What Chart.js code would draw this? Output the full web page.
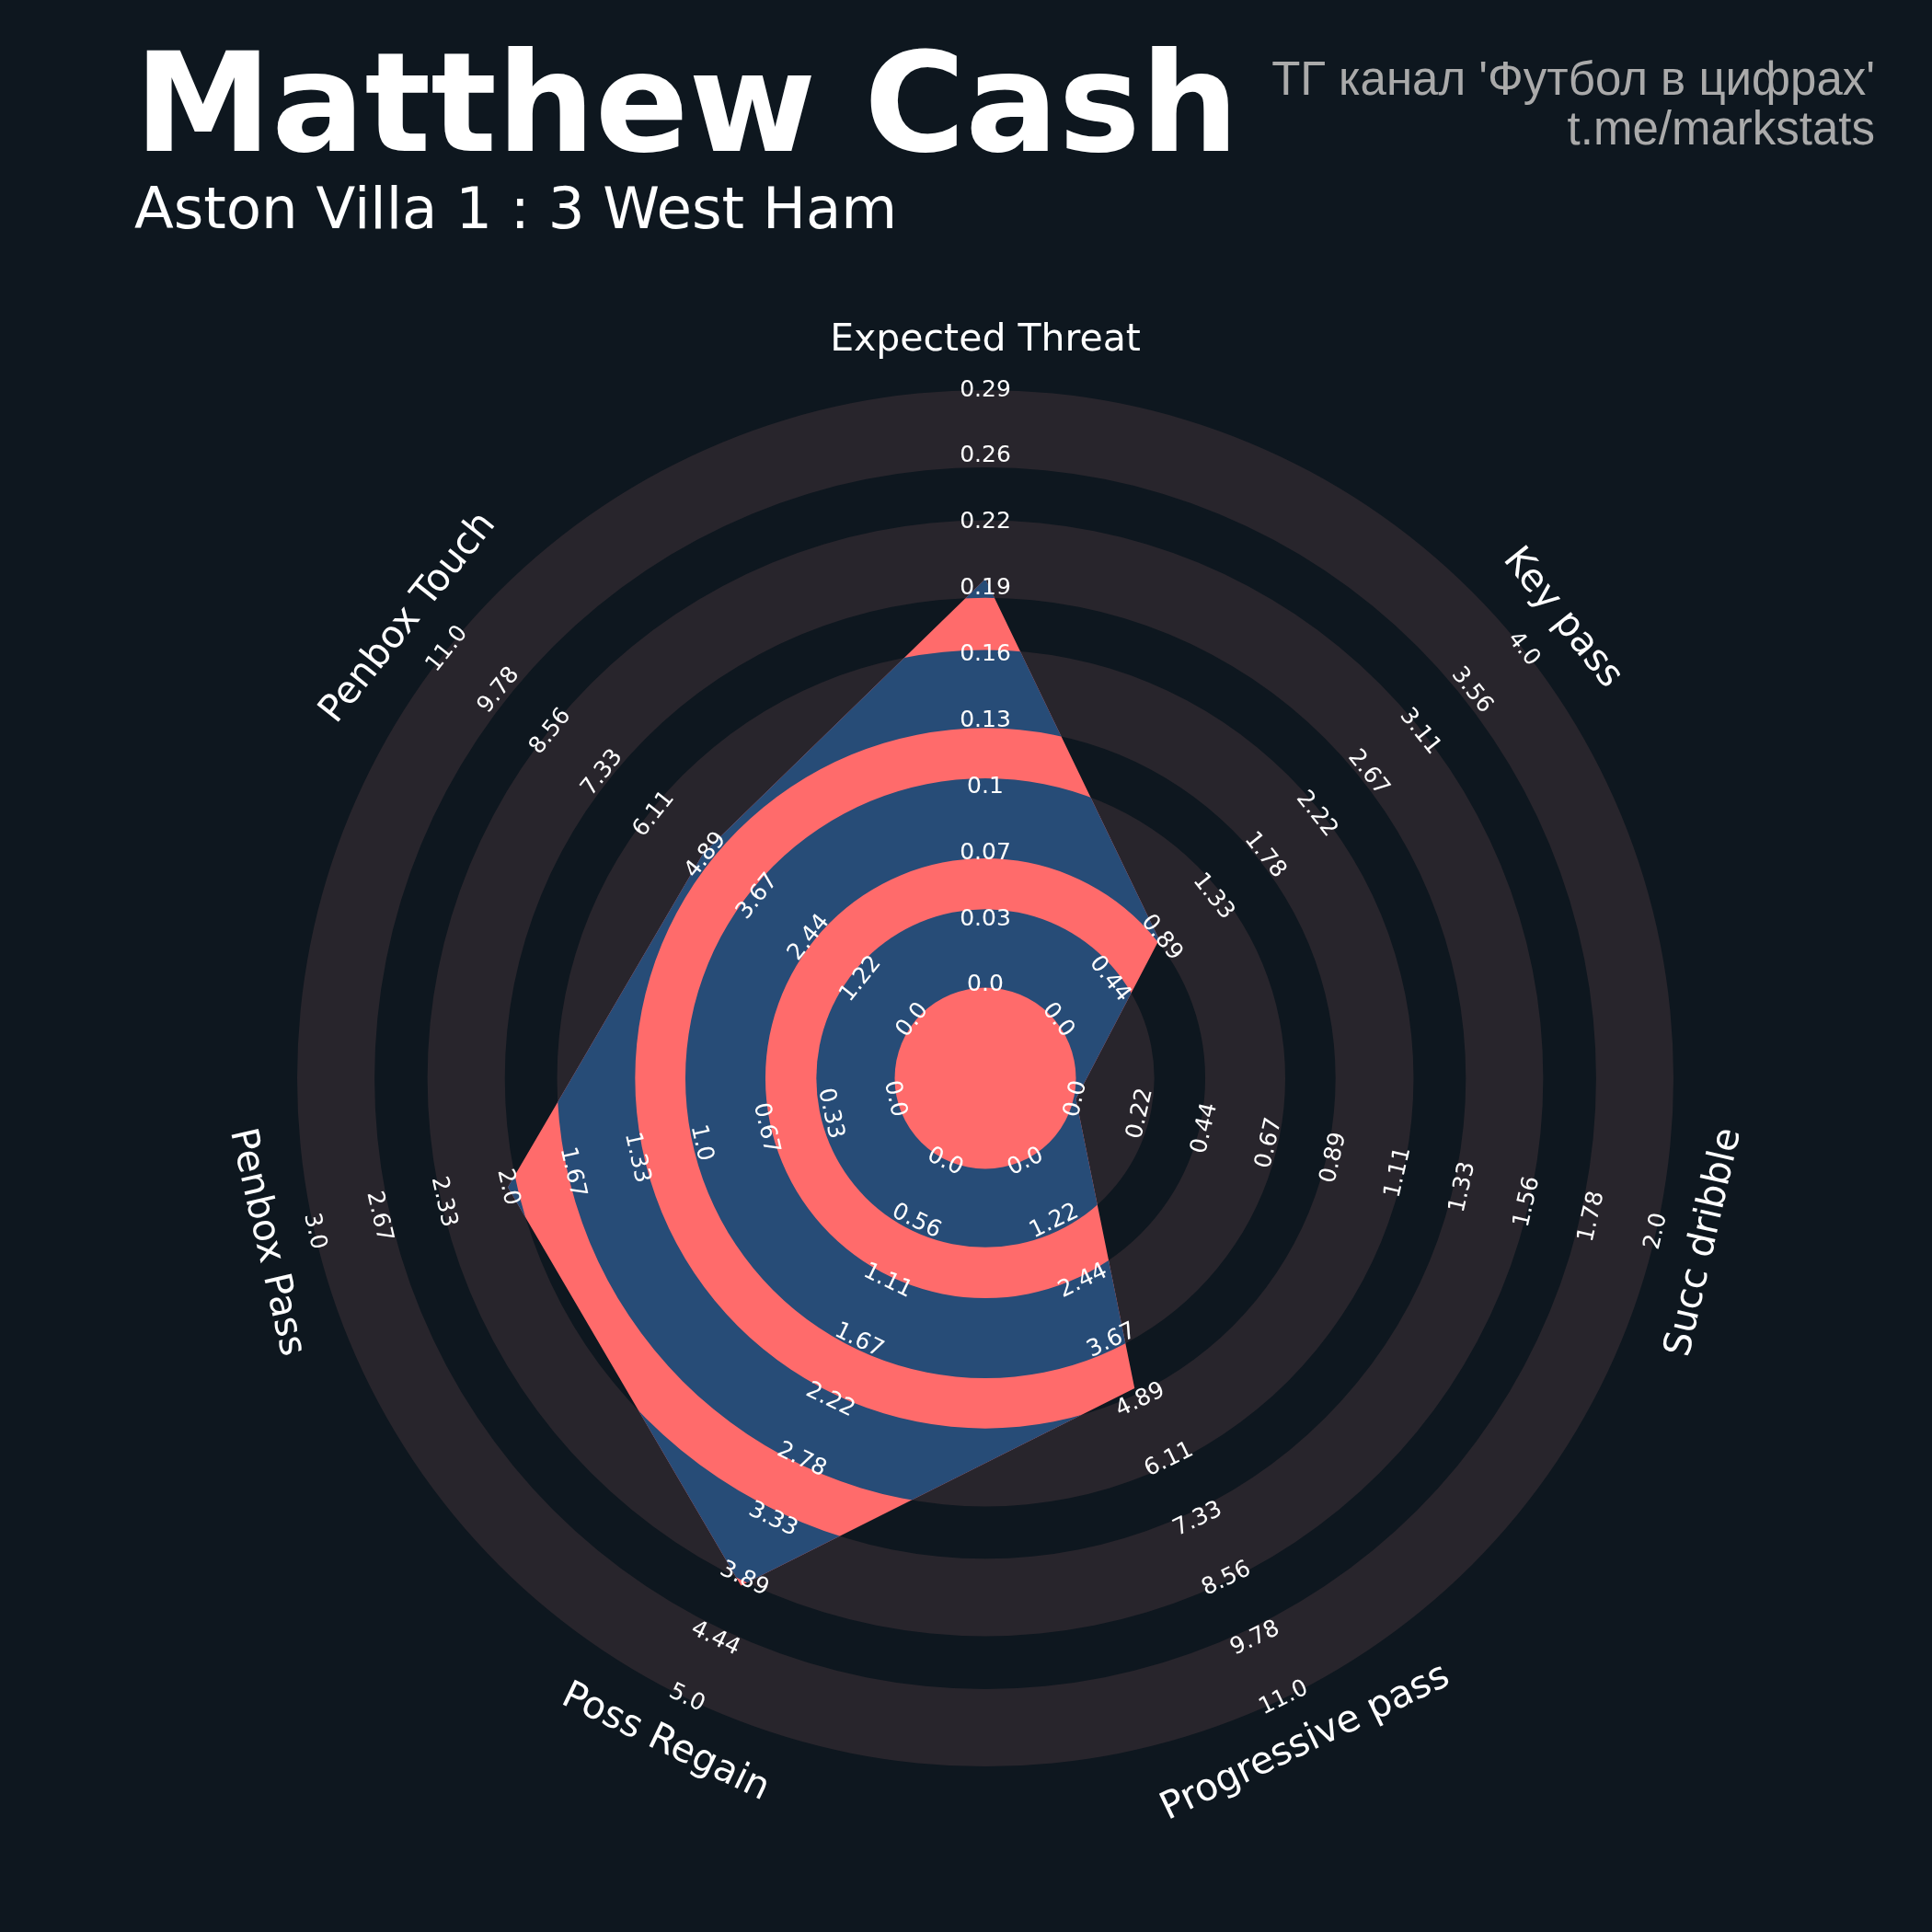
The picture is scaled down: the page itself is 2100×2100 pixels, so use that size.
<!DOCTYPE html>
<html>
<head>
<meta charset="utf-8">
<script src="https://cdn.jsdelivr.net/npm/chart.js@4.4.0/dist/chart.umd.min.js"></script>
<style>
  html, body { margin: 0; padding: 0; background: #0e171f; }
  #wrap { position: relative; width: 2100px; height: 2100px; overflow: hidden; }
  #radar { position: absolute; left: 0; top: 0; }
  .txt { position: absolute; white-space: nowrap; line-height: 1; }
  #title { left: 146px; top: 25px; font: bold 150px "DejaVu Sans"; color: #ffffff; }
  #subtitle { left: 146px; top: 190px; font: 62.5px "DejaVu Sans"; color: #ffffff; }
  .credit { right: 62px; font: 51px "Liberation Sans"; color: #aaaaaa; text-align: right; }
</style>
</head>
<body>
<div id="wrap">
  <canvas id="radar" width="2100" height="2100"></canvas>
  <div class="txt" id="title">Matthew Cash</div>
  <div class="txt" id="subtitle">Aston Villa 1 : 3 West Ham</div>
  <div class="txt credit" style="top:56px">ТГ канал 'Футбол в цифрах'</div>
  <div class="txt credit" style="top:110px">t.me/markstats</div>
</div>
<script>
// data
const params = ["Expected Threat", "Key pass", "Succ dribble", "Progressive pass",
                "Poss Regain", "Penbox Pass", "Penbox Touch"];
const minRange = [0, 0, 0, 0, 0, 0, 0];
const maxRange = [0.29, 4.0, 2.0, 11.0, 5.0, 3.0, 11.0];
const playerValues = [0.198, 0.87, 0.0, 4.64, 3.95, 2.0, 4.95];

const xtLabels = ["0.0", "0.03", "0.07", "0.1", "0.13", "0.16", "0.19", "0.22", "0.26", "0.29"];
const keyPassLabels = ["0.0", "0.44", "0.89", "1.33", "1.78", "2.22", "2.67", "3.11", "3.56", "4.0"];
const dribbleLabels = ["0.0", "0.22", "0.44", "0.67", "0.89", "1.11", "1.33", "1.56", "1.78", "2.0"];
const progPassLabels = ["0.0", "1.22", "2.44", "3.67", "4.89", "6.11", "7.33", "8.56", "9.78", "11.0"];
const regainLabels = ["0.0", "0.56", "1.11", "1.67", "2.22", "2.78", "3.33", "3.89", "4.44", "5.0"];
const boxPassLabels = ["0.0", "0.33", "0.67", "1.0", "1.33", "1.67", "2.0", "2.33", "2.67", "3.0"];
const boxTouchLabels = ["0.0", "1.22", "2.44", "3.67", "4.89", "6.11", "7.33", "8.56", "9.78", "11.0"];
const rangeLabels = [xtLabels, keyPassLabels, dribbleLabels, progPassLabels,
                     regainLabels, boxPassLabels, boxTouchLabels];

// look
const RING_GRAY = "#28252c";
const RED = "#ff6b6b";
const BLUE = "#274c77";
const STEPS = 9;             // label steps from centre circle to outer edge
const CENTER_MIN = -1.405;   // size of the centre circle in step units
const RING_BANDS = [[0, 1.15], [1.92, 3.13], [3.89, 5.07], [5.86, 7.03], [7.83, 9]];

const scaled = playerValues.map((v, i) => (v - minRange[i]) / (maxRange[i] - minRange[i]) * STEPS);

function annulus(ctx, cx, cy, r0, r1) {
  ctx.beginPath();
  ctx.arc(cx, cy, r1, 0, Math.PI * 2);
  if (r0 > 0) ctx.arc(cx, cy, r0, 0, Math.PI * 2, true);
  ctx.fill();
}

function labelRotation(angle) {
  let deg = angle * 180 / Math.PI % 360;
  if (deg > 90 && deg < 270) deg -= 180;
  return deg * Math.PI / 180;
}

const radarDecor = {
  id: "radarDecor",
  beforeDatasetsDraw(chart) {
    const s = chart.scales.r, ctx = chart.ctx;
    ctx.save();
    ctx.fillStyle = RING_GRAY;
    RING_BANDS.forEach(b => annulus(ctx, s.xCenter, s.yCenter,
      s.getDistanceFromCenterForValue(b[0]), s.getDistanceFromCenterForValue(b[1])));
    ctx.restore();
  },
  afterDatasetsDraw(chart) {
    const s = chart.scales.r, ctx = chart.ctx;
    const pts = chart.getDatasetMeta(0).data;
    ctx.save();
    ctx.beginPath();
    pts.forEach((p, i) => i ? ctx.lineTo(p.x, p.y) : ctx.moveTo(p.x, p.y));
    ctx.closePath();
    ctx.clip();
    ctx.fillStyle = BLUE;
    RING_BANDS.forEach((b, i) => annulus(ctx, s.xCenter, s.yCenter,
      i === 0 ? 0 : s.getDistanceFromCenterForValue(b[0]), s.getDistanceFromCenterForValue(b[1])));
    ctx.fillStyle = RED;
    annulus(ctx, s.xCenter, s.yCenter, 0, s.getDistanceFromCenterForValue(-0.035));
    ctx.restore();
  },
  afterDraw(chart) {
    const s = chart.scales.r, ctx = chart.ctx;
    ctx.save();
    ctx.fillStyle = "#ffffff";
    ctx.textAlign = "center";
    ctx.textBaseline = "middle";
    params.forEach((name, i) => {
      // range labels
      ctx.font = '25px "DejaVu Sans"';
      rangeLabels[i].forEach((txt, k) => {
        const p = s.getPointPosition(i, s.getDistanceFromCenterForValue(k));
        ctx.save();
        ctx.translate(p.x, p.y);
        ctx.rotate(labelRotation(s.getIndexAngle(i)));
        ctx.fillText(txt, 0, 0);
        ctx.restore();
      });
      // parameter names
      ctx.font = '41px "DejaVu Sans"';
      const p = s.getPointPosition(i, s.drawingArea * 1.072);
      ctx.save();
      ctx.translate(p.x, p.y);
      ctx.rotate(labelRotation(s.getIndexAngle(i)));
      ctx.fillText(name, 0, 0);
      ctx.restore();
    });
    ctx.restore();
  }
};

new Chart(document.getElementById("radar"), {
  type: "radar",
  data: {
    labels: params,
    datasets: [
      {
        data: scaled,
        backgroundColor: RED,
        borderWidth: 0,
        fill: "start",
        pointRadius: 0,
        tension: 0,
      },
    ],
  },
  options: {
    responsive: false,
    animation: false,
    devicePixelRatio: 1,
    layout: {
      padding: { left: 323, top: 424, right: 281, bottom: 180 },
    },
    plugins: {
      legend: { display: false },
      tooltip: { enabled: false },
    },
    scales: {
      r: {
        min: CENTER_MIN,
        max: STEPS,
        startAngle: 0,
        grid: { display: false },
        angleLines: { display: false },
        ticks: { display: false },
        pointLabels: { display: false },
      },
    },
  },
  plugins: [radarDecor],
});
</script>
</body>
</html>
